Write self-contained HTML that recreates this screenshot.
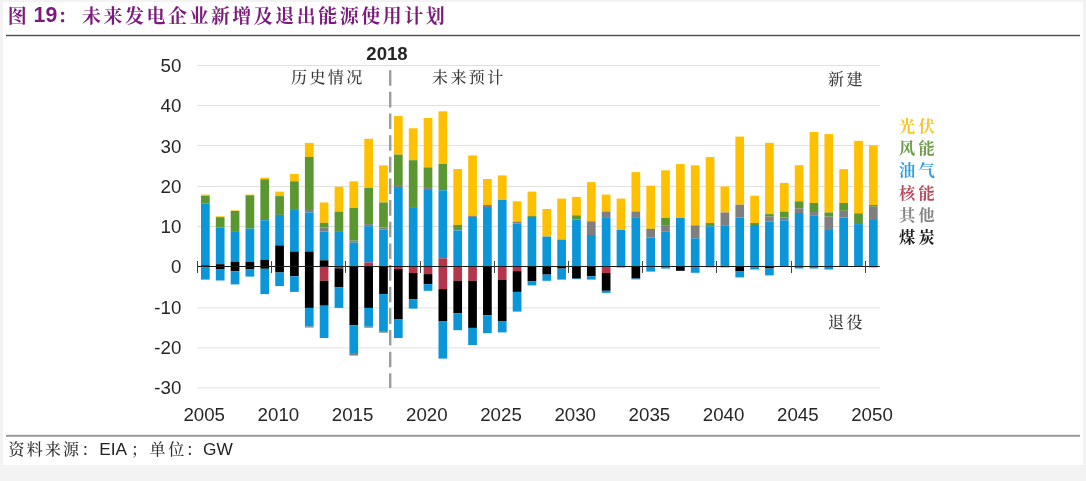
<!DOCTYPE html>
<html lang="zh-CN"><head><meta charset="utf-8"><title>图 19：未来发电企业新增及退出能源使用计划</title>
<style>
html,body{margin:0;padding:0;background:#f3f3f3;}
body{width:1086px;height:481px;overflow:hidden;position:relative;font-family:"Liberation Sans","Noto Serif CJK SC",sans-serif;}
#card{position:absolute;left:3px;top:2px;width:1080px;height:463px;background:#fff;}
svg{position:absolute;left:0;top:0;}
.num{font-family:"Liberation Sans",sans-serif;font-size:18.7px;fill:#262626;}
.kai{font-family:"Liberation Sans","Noto Serif CJK SC",serif;}
</style></head><body><div id="card"></div>
<svg width="1086" height="481" viewBox="0 0 1086 481">
<rect x="6" y="34.8" width="1074" height="1.4" fill="#4a4a4a"/>
<rect x="6" y="434.8" width="1074" height="2" fill="#9a9a9a"/>
<text x="7.8" y="23" class="kai" font-size="19" font-weight="bold" fill="#7a1b7c"><tspan>图</tspan><tspan x="33.6" y="22.1" font-size="21.3" font-family="Liberation Sans">19</tspan><tspan x="57.5" y="23">：</tspan><tspan x="82" letter-spacing="2.48">未来发电企业新增及退出能源使用计划</tspan></text>
<rect x="197.5" y="65.0" width="682.5" height="1" fill="#e0e0e0"/>
<rect x="197.5" y="105.0" width="682.5" height="1" fill="#e0e0e0"/>
<rect x="197.5" y="145.0" width="682.5" height="1" fill="#e0e0e0"/>
<rect x="197.5" y="186.0" width="682.5" height="1" fill="#e0e0e0"/>
<rect x="197.5" y="226.0" width="682.5" height="1" fill="#e0e0e0"/>
<rect x="197.5" y="307.4" width="682.5" height="1" fill="#e0e0e0"/>
<rect x="197.5" y="347.4" width="682.5" height="1" fill="#e0e0e0"/>
<rect x="197.5" y="387.4" width="682.5" height="1" fill="#e0e0e0"/>
<line x1="390.2" y1="70.2" x2="390.2" y2="388" stroke="#9c9c9c" stroke-width="2.4" stroke-dasharray="15.6 6.05"/>
<rect x="201.00" y="194.60" width="8.70" height="1.20" fill="#FFC000"/>
<rect x="201.00" y="195.80" width="8.70" height="7.50" fill="#5B9731"/>
<rect x="201.00" y="203.30" width="8.70" height="62.00" fill="#0B96DA"/>
<rect x="201.00" y="265.30" width="8.70" height="2.20" fill="#000000"/>
<rect x="201.00" y="267.50" width="8.70" height="12.10" fill="#0B96DA"/>
<rect x="215.84" y="216.30" width="8.70" height="0.90" fill="#FFC000"/>
<rect x="215.84" y="217.20" width="8.70" height="10.20" fill="#5B9731"/>
<rect x="215.84" y="227.40" width="8.70" height="36.80" fill="#0B96DA"/>
<rect x="215.84" y="264.20" width="8.70" height="5.30" fill="#000000"/>
<rect x="215.84" y="269.50" width="8.70" height="11.00" fill="#0B96DA"/>
<rect x="230.69" y="210.40" width="8.70" height="0.60" fill="#FFC000"/>
<rect x="230.69" y="211.00" width="8.70" height="20.90" fill="#5B9731"/>
<rect x="230.69" y="231.90" width="8.70" height="29.80" fill="#0B96DA"/>
<rect x="230.69" y="261.70" width="8.70" height="9.60" fill="#000000"/>
<rect x="230.69" y="271.30" width="8.70" height="13.10" fill="#0B96DA"/>
<rect x="245.53" y="194.60" width="8.70" height="0.70" fill="#FFC000"/>
<rect x="245.53" y="195.30" width="8.70" height="33.30" fill="#5B9731"/>
<rect x="245.53" y="228.60" width="8.70" height="33.10" fill="#0B96DA"/>
<rect x="245.53" y="261.70" width="8.70" height="7.80" fill="#000000"/>
<rect x="245.53" y="269.50" width="8.70" height="7.10" fill="#0B96DA"/>
<rect x="260.38" y="177.70" width="8.70" height="1.60" fill="#FFC000"/>
<rect x="260.38" y="179.30" width="8.70" height="40.90" fill="#5B9731"/>
<rect x="260.38" y="220.20" width="8.70" height="39.50" fill="#0B96DA"/>
<rect x="260.38" y="259.70" width="8.70" height="9.10" fill="#000000"/>
<rect x="260.38" y="268.80" width="8.70" height="25.30" fill="#0B96DA"/>
<rect x="275.22" y="191.60" width="8.70" height="4.50" fill="#FFC000"/>
<rect x="275.22" y="196.10" width="8.70" height="18.80" fill="#5B9731"/>
<rect x="275.22" y="214.90" width="8.70" height="30.50" fill="#0B96DA"/>
<rect x="275.22" y="245.40" width="8.70" height="27.10" fill="#000000"/>
<rect x="275.22" y="272.50" width="8.70" height="13.60" fill="#0B96DA"/>
<rect x="290.06" y="174.00" width="8.70" height="7.30" fill="#FFC000"/>
<rect x="290.06" y="181.30" width="8.70" height="27.80" fill="#5B9731"/>
<rect x="290.06" y="209.10" width="8.70" height="42.40" fill="#0B96DA"/>
<rect x="290.06" y="251.50" width="8.70" height="24.80" fill="#000000"/>
<rect x="290.06" y="276.30" width="8.70" height="15.60" fill="#0B96DA"/>
<rect x="304.91" y="142.90" width="8.70" height="14.00" fill="#FFC000"/>
<rect x="304.91" y="156.90" width="8.70" height="52.10" fill="#5B9731"/>
<rect x="304.91" y="209.00" width="8.70" height="3.40" fill="#7F7F7F"/>
<rect x="304.91" y="212.40" width="8.70" height="39.10" fill="#0B96DA"/>
<rect x="304.91" y="251.50" width="8.70" height="56.40" fill="#000000"/>
<rect x="304.91" y="307.90" width="8.70" height="18.60" fill="#0B96DA"/>
<rect x="304.91" y="326.50" width="8.70" height="1.00" fill="#7F7F7F"/>
<rect x="319.75" y="202.50" width="8.70" height="20.40" fill="#FFC000"/>
<rect x="319.75" y="222.90" width="8.70" height="4.60" fill="#5B9731"/>
<rect x="319.75" y="227.50" width="8.70" height="4.10" fill="#7F7F7F"/>
<rect x="319.75" y="231.60" width="8.70" height="28.70" fill="#0B96DA"/>
<rect x="319.75" y="260.30" width="8.70" height="6.20" fill="#000000"/>
<rect x="319.75" y="266.50" width="8.70" height="14.30" fill="#B5354A"/>
<rect x="319.75" y="280.80" width="8.70" height="24.90" fill="#000000"/>
<rect x="319.75" y="305.70" width="8.70" height="32.30" fill="#0B96DA"/>
<rect x="334.60" y="186.70" width="8.70" height="24.90" fill="#FFC000"/>
<rect x="334.60" y="211.60" width="8.70" height="20.30" fill="#5B9731"/>
<rect x="334.60" y="231.90" width="8.70" height="34.40" fill="#0B96DA"/>
<rect x="334.60" y="266.30" width="8.70" height="2.00" fill="#B5354A"/>
<rect x="334.60" y="268.30" width="8.70" height="19.10" fill="#000000"/>
<rect x="334.60" y="287.40" width="8.70" height="20.50" fill="#0B96DA"/>
<rect x="349.44" y="181.30" width="8.70" height="26.70" fill="#FFC000"/>
<rect x="349.44" y="208.00" width="8.70" height="32.60" fill="#5B9731"/>
<rect x="349.44" y="240.60" width="8.70" height="2.00" fill="#7F7F7F"/>
<rect x="349.44" y="242.60" width="8.70" height="23.90" fill="#0B96DA"/>
<rect x="349.44" y="266.50" width="8.70" height="58.70" fill="#000000"/>
<rect x="349.44" y="325.20" width="8.70" height="27.80" fill="#0B96DA"/>
<rect x="349.44" y="353.00" width="8.70" height="2.50" fill="#7F7F7F"/>
<rect x="364.28" y="138.80" width="8.70" height="49.20" fill="#FFC000"/>
<rect x="364.28" y="188.00" width="8.70" height="36.10" fill="#5B9731"/>
<rect x="364.28" y="224.10" width="8.70" height="2.10" fill="#7F7F7F"/>
<rect x="364.28" y="226.20" width="8.70" height="36.30" fill="#0B96DA"/>
<rect x="364.28" y="262.50" width="8.70" height="4.00" fill="#B5354A"/>
<rect x="364.28" y="266.50" width="8.70" height="41.40" fill="#000000"/>
<rect x="364.28" y="307.90" width="8.70" height="18.80" fill="#0B96DA"/>
<rect x="364.28" y="326.70" width="8.70" height="1.00" fill="#7F7F7F"/>
<rect x="379.13" y="165.40" width="8.70" height="37.10" fill="#FFC000"/>
<rect x="379.13" y="202.50" width="8.70" height="24.90" fill="#5B9731"/>
<rect x="379.13" y="227.40" width="8.70" height="2.20" fill="#7F7F7F"/>
<rect x="379.13" y="229.60" width="8.70" height="36.90" fill="#0B96DA"/>
<rect x="379.13" y="266.50" width="8.70" height="27.60" fill="#000000"/>
<rect x="379.13" y="294.10" width="8.70" height="37.70" fill="#0B96DA"/>
<rect x="379.13" y="331.80" width="8.70" height="0.90" fill="#7F7F7F"/>
<rect x="393.97" y="116.10" width="8.70" height="38.50" fill="#FFC000"/>
<rect x="393.97" y="154.60" width="8.70" height="30.40" fill="#5B9731"/>
<rect x="393.97" y="185.00" width="8.70" height="2.00" fill="#7F7F7F"/>
<rect x="393.97" y="187.00" width="8.70" height="79.50" fill="#0B96DA"/>
<rect x="393.97" y="266.50" width="8.70" height="2.60" fill="#B5354A"/>
<rect x="393.97" y="269.10" width="8.70" height="50.40" fill="#000000"/>
<rect x="393.97" y="319.50" width="8.70" height="18.50" fill="#0B96DA"/>
<rect x="408.82" y="128.30" width="8.70" height="31.90" fill="#FFC000"/>
<rect x="408.82" y="160.20" width="8.70" height="46.90" fill="#5B9731"/>
<rect x="408.82" y="207.10" width="8.70" height="59.40" fill="#0B96DA"/>
<rect x="408.82" y="266.50" width="8.70" height="6.50" fill="#B5354A"/>
<rect x="408.82" y="273.00" width="8.70" height="26.10" fill="#000000"/>
<rect x="408.82" y="299.10" width="8.70" height="9.50" fill="#0B96DA"/>
<rect x="423.66" y="118.00" width="8.70" height="49.40" fill="#FFC000"/>
<rect x="423.66" y="167.40" width="8.70" height="19.60" fill="#5B9731"/>
<rect x="423.66" y="187.00" width="8.70" height="3.00" fill="#7F7F7F"/>
<rect x="423.66" y="190.00" width="8.70" height="76.50" fill="#0B96DA"/>
<rect x="423.66" y="266.50" width="8.70" height="7.60" fill="#B5354A"/>
<rect x="423.66" y="274.10" width="8.70" height="10.00" fill="#000000"/>
<rect x="423.66" y="284.10" width="8.70" height="6.70" fill="#0B96DA"/>
<rect x="438.50" y="111.30" width="8.70" height="52.70" fill="#FFC000"/>
<rect x="438.50" y="164.00" width="8.70" height="26.30" fill="#5B9731"/>
<rect x="438.50" y="190.30" width="8.70" height="68.00" fill="#0B96DA"/>
<rect x="438.50" y="258.30" width="8.70" height="30.80" fill="#B5354A"/>
<rect x="438.50" y="289.10" width="8.70" height="32.40" fill="#000000"/>
<rect x="438.50" y="321.50" width="8.70" height="37.10" fill="#0B96DA"/>
<rect x="453.35" y="169.00" width="8.70" height="55.90" fill="#FFC000"/>
<rect x="453.35" y="224.90" width="8.70" height="4.10" fill="#5B9731"/>
<rect x="453.35" y="229.00" width="8.70" height="1.40" fill="#7F7F7F"/>
<rect x="453.35" y="230.40" width="8.70" height="36.10" fill="#0B96DA"/>
<rect x="453.35" y="266.50" width="8.70" height="14.30" fill="#B5354A"/>
<rect x="453.35" y="280.80" width="8.70" height="32.40" fill="#000000"/>
<rect x="453.35" y="313.20" width="8.70" height="17.00" fill="#0B96DA"/>
<rect x="468.19" y="155.40" width="8.70" height="60.40" fill="#FFC000"/>
<rect x="468.19" y="215.80" width="8.70" height="1.10" fill="#7F7F7F"/>
<rect x="468.19" y="216.90" width="8.70" height="49.60" fill="#0B96DA"/>
<rect x="468.19" y="266.50" width="8.70" height="14.30" fill="#B5354A"/>
<rect x="468.19" y="280.80" width="8.70" height="47.10" fill="#000000"/>
<rect x="468.19" y="327.90" width="8.70" height="17.10" fill="#0B96DA"/>
<rect x="483.04" y="179.00" width="8.70" height="26.00" fill="#FFC000"/>
<rect x="483.04" y="205.00" width="8.70" height="2.00" fill="#7F7F7F"/>
<rect x="483.04" y="207.00" width="8.70" height="59.50" fill="#0B96DA"/>
<rect x="483.04" y="266.50" width="8.70" height="48.70" fill="#000000"/>
<rect x="483.04" y="315.20" width="8.70" height="18.00" fill="#0B96DA"/>
<rect x="497.88" y="175.40" width="8.70" height="24.60" fill="#FFC000"/>
<rect x="497.88" y="200.00" width="8.70" height="66.50" fill="#0B96DA"/>
<rect x="497.88" y="266.50" width="8.70" height="13.50" fill="#B5354A"/>
<rect x="497.88" y="280.00" width="8.70" height="41.50" fill="#000000"/>
<rect x="497.88" y="321.50" width="8.70" height="10.90" fill="#0B96DA"/>
<rect x="512.72" y="201.30" width="8.70" height="20.30" fill="#FFC000"/>
<rect x="512.72" y="221.60" width="8.70" height="2.00" fill="#7F7F7F"/>
<rect x="512.72" y="223.60" width="8.70" height="42.90" fill="#0B96DA"/>
<rect x="512.72" y="266.50" width="8.70" height="4.60" fill="#B5354A"/>
<rect x="512.72" y="271.10" width="8.70" height="20.80" fill="#000000"/>
<rect x="512.72" y="291.90" width="8.70" height="19.70" fill="#0B96DA"/>
<rect x="527.57" y="191.60" width="8.70" height="24.20" fill="#FFC000"/>
<rect x="527.57" y="215.80" width="8.70" height="1.10" fill="#5B9731"/>
<rect x="527.57" y="216.90" width="8.70" height="49.60" fill="#0B96DA"/>
<rect x="527.57" y="266.50" width="8.70" height="14.60" fill="#000000"/>
<rect x="527.57" y="281.10" width="8.70" height="4.30" fill="#0B96DA"/>
<rect x="542.41" y="209.00" width="8.70" height="27.60" fill="#FFC000"/>
<rect x="542.41" y="236.60" width="8.70" height="29.90" fill="#0B96DA"/>
<rect x="542.41" y="266.50" width="8.70" height="8.10" fill="#000000"/>
<rect x="542.41" y="274.60" width="8.70" height="6.20" fill="#0B96DA"/>
<rect x="557.26" y="198.60" width="8.70" height="41.00" fill="#FFC000"/>
<rect x="557.26" y="239.60" width="8.70" height="26.40" fill="#0B96DA"/>
<rect x="557.26" y="266.00" width="8.70" height="2.60" fill="#000000"/>
<rect x="557.26" y="268.60" width="8.70" height="11.00" fill="#0B96DA"/>
<rect x="572.10" y="196.90" width="8.70" height="18.40" fill="#FFC000"/>
<rect x="572.10" y="215.30" width="8.70" height="4.30" fill="#5B9731"/>
<rect x="572.10" y="219.60" width="8.70" height="46.90" fill="#0B96DA"/>
<rect x="572.10" y="266.50" width="8.70" height="12.10" fill="#000000"/>
<rect x="572.10" y="278.60" width="8.70" height="0.60" fill="#0B96DA"/>
<rect x="586.94" y="182.10" width="8.70" height="39.20" fill="#FFC000"/>
<rect x="586.94" y="221.30" width="8.70" height="13.70" fill="#7F7F7F"/>
<rect x="586.94" y="235.00" width="8.70" height="31.50" fill="#0B96DA"/>
<rect x="586.94" y="266.50" width="8.70" height="9.80" fill="#000000"/>
<rect x="586.94" y="276.30" width="8.70" height="3.30" fill="#0B96DA"/>
<rect x="601.79" y="194.60" width="8.70" height="16.90" fill="#FFC000"/>
<rect x="601.79" y="211.50" width="8.70" height="5.70" fill="#7F7F7F"/>
<rect x="601.79" y="217.20" width="8.70" height="49.30" fill="#0B96DA"/>
<rect x="601.79" y="266.50" width="8.70" height="6.50" fill="#B5354A"/>
<rect x="601.79" y="273.00" width="8.70" height="17.80" fill="#000000"/>
<rect x="601.79" y="290.80" width="8.70" height="2.10" fill="#0B96DA"/>
<rect x="616.63" y="198.60" width="8.70" height="31.40" fill="#FFC000"/>
<rect x="616.63" y="230.00" width="8.70" height="37.50" fill="#0B96DA"/>
<rect x="631.48" y="172.10" width="8.70" height="39.40" fill="#FFC000"/>
<rect x="631.48" y="211.50" width="8.70" height="5.70" fill="#7F7F7F"/>
<rect x="631.48" y="217.20" width="8.70" height="49.30" fill="#0B96DA"/>
<rect x="631.48" y="266.50" width="8.70" height="12.10" fill="#000000"/>
<rect x="631.48" y="278.60" width="8.70" height="0.80" fill="#0B96DA"/>
<rect x="646.32" y="185.70" width="8.70" height="43.10" fill="#FFC000"/>
<rect x="646.32" y="228.80" width="8.70" height="1.20" fill="#5B9731"/>
<rect x="646.32" y="230.00" width="8.70" height="7.50" fill="#7F7F7F"/>
<rect x="646.32" y="237.50" width="8.70" height="34.10" fill="#0B96DA"/>
<rect x="661.16" y="170.30" width="8.70" height="47.70" fill="#FFC000"/>
<rect x="661.16" y="218.00" width="8.70" height="7.80" fill="#5B9731"/>
<rect x="661.16" y="225.80" width="8.70" height="5.50" fill="#7F7F7F"/>
<rect x="661.16" y="231.30" width="8.70" height="37.30" fill="#0B96DA"/>
<rect x="676.01" y="164.10" width="8.70" height="53.90" fill="#FFC000"/>
<rect x="676.01" y="218.00" width="8.70" height="48.50" fill="#0B96DA"/>
<rect x="676.01" y="266.50" width="8.70" height="4.30" fill="#000000"/>
<rect x="690.85" y="165.30" width="8.70" height="60.00" fill="#FFC000"/>
<rect x="690.85" y="225.30" width="8.70" height="13.00" fill="#7F7F7F"/>
<rect x="690.85" y="238.30" width="8.70" height="34.50" fill="#0B96DA"/>
<rect x="705.70" y="157.10" width="8.70" height="65.90" fill="#FFC000"/>
<rect x="705.70" y="223.00" width="8.70" height="3.30" fill="#5B9731"/>
<rect x="705.70" y="226.30" width="8.70" height="41.00" fill="#0B96DA"/>
<rect x="720.54" y="186.50" width="8.70" height="26.00" fill="#FFC000"/>
<rect x="720.54" y="212.50" width="8.70" height="13.30" fill="#7F7F7F"/>
<rect x="720.54" y="225.80" width="8.70" height="41.60" fill="#0B96DA"/>
<rect x="735.38" y="136.60" width="8.70" height="68.10" fill="#FFC000"/>
<rect x="735.38" y="204.70" width="8.70" height="12.80" fill="#7F7F7F"/>
<rect x="735.38" y="217.50" width="8.70" height="49.00" fill="#0B96DA"/>
<rect x="735.38" y="266.50" width="8.70" height="5.00" fill="#000000"/>
<rect x="735.38" y="271.50" width="8.70" height="5.90" fill="#0B96DA"/>
<rect x="750.23" y="195.70" width="8.70" height="27.30" fill="#FFC000"/>
<rect x="750.23" y="223.00" width="8.70" height="2.00" fill="#5B9731"/>
<rect x="750.23" y="225.00" width="8.70" height="44.50" fill="#0B96DA"/>
<rect x="765.07" y="142.80" width="8.70" height="71.30" fill="#FFC000"/>
<rect x="765.07" y="214.10" width="8.70" height="2.50" fill="#5B9731"/>
<rect x="765.07" y="216.60" width="8.70" height="5.00" fill="#7F7F7F"/>
<rect x="765.07" y="221.60" width="8.70" height="44.90" fill="#0B96DA"/>
<rect x="765.07" y="266.50" width="8.70" height="2.00" fill="#000000"/>
<rect x="765.07" y="268.50" width="8.70" height="6.90" fill="#0B96DA"/>
<rect x="779.92" y="182.90" width="8.70" height="28.70" fill="#FFC000"/>
<rect x="779.92" y="211.60" width="8.70" height="5.90" fill="#5B9731"/>
<rect x="779.92" y="217.50" width="8.70" height="2.80" fill="#7F7F7F"/>
<rect x="779.92" y="220.30" width="8.70" height="46.20" fill="#0B96DA"/>
<rect x="794.76" y="165.20" width="8.70" height="36.10" fill="#FFC000"/>
<rect x="794.76" y="201.30" width="8.70" height="7.00" fill="#5B9731"/>
<rect x="794.76" y="208.30" width="8.70" height="4.70" fill="#7F7F7F"/>
<rect x="794.76" y="213.00" width="8.70" height="55.50" fill="#0B96DA"/>
<rect x="809.60" y="132.00" width="8.70" height="71.00" fill="#FFC000"/>
<rect x="809.60" y="203.00" width="8.70" height="9.00" fill="#5B9731"/>
<rect x="809.60" y="212.00" width="8.70" height="3.30" fill="#7F7F7F"/>
<rect x="809.60" y="215.30" width="8.70" height="53.20" fill="#0B96DA"/>
<rect x="824.45" y="134.10" width="8.70" height="78.40" fill="#FFC000"/>
<rect x="824.45" y="212.50" width="8.70" height="4.10" fill="#5B9731"/>
<rect x="824.45" y="216.60" width="8.70" height="13.40" fill="#7F7F7F"/>
<rect x="824.45" y="230.00" width="8.70" height="39.50" fill="#0B96DA"/>
<rect x="839.29" y="169.10" width="8.70" height="33.90" fill="#FFC000"/>
<rect x="839.29" y="203.00" width="8.70" height="7.80" fill="#5B9731"/>
<rect x="839.29" y="210.80" width="8.70" height="6.70" fill="#7F7F7F"/>
<rect x="839.29" y="217.50" width="8.70" height="49.00" fill="#0B96DA"/>
<rect x="854.14" y="140.80" width="8.70" height="72.50" fill="#FFC000"/>
<rect x="854.14" y="213.30" width="8.70" height="10.80" fill="#5B9731"/>
<rect x="854.14" y="224.10" width="8.70" height="42.40" fill="#0B96DA"/>
<rect x="868.98" y="145.30" width="8.70" height="59.70" fill="#FFC000"/>
<rect x="868.98" y="205.00" width="8.70" height="1.70" fill="#5B9731"/>
<rect x="868.98" y="206.70" width="8.70" height="13.30" fill="#7F7F7F"/>
<rect x="868.98" y="220.00" width="8.70" height="47.40" fill="#0B96DA"/>
<rect x="197.4" y="266" width="682.4" height="1" fill="#1a1a1a"/>
<rect x="197" y="261" width="1" height="12" fill="#404040"/>
<rect x="271" y="261" width="1" height="12" fill="#404040"/>
<rect x="345" y="261" width="1" height="12" fill="#404040"/>
<rect x="420" y="261" width="1" height="12" fill="#404040"/>
<rect x="494" y="261" width="1" height="12" fill="#404040"/>
<rect x="568" y="261" width="1" height="12" fill="#404040"/>
<rect x="642" y="261" width="1" height="12" fill="#404040"/>
<rect x="716" y="261" width="1" height="12" fill="#404040"/>
<rect x="791" y="261" width="1" height="12" fill="#404040"/>
<rect x="865" y="261" width="1" height="12" fill="#404040"/>
<text x="181.3" y="72.1" text-anchor="end" class="num">50</text>
<text x="181.3" y="112.3" text-anchor="end" class="num">40</text>
<text x="181.3" y="152.5" text-anchor="end" class="num">30</text>
<text x="181.3" y="192.8" text-anchor="end" class="num">20</text>
<text x="181.3" y="233.0" text-anchor="end" class="num">10</text>
<text x="181.3" y="273.3" text-anchor="end" class="num">0</text>
<text x="181.3" y="313.6" text-anchor="end" class="num">-10</text>
<text x="181.3" y="353.9" text-anchor="end" class="num">-20</text>
<text x="181.3" y="394.2" text-anchor="end" class="num">-30</text>
<text x="204.2" y="421" text-anchor="middle" class="num">2005</text>
<text x="278.4" y="421" text-anchor="middle" class="num">2010</text>
<text x="352.6" y="421" text-anchor="middle" class="num">2015</text>
<text x="426.8" y="421" text-anchor="middle" class="num">2020</text>
<text x="501.0" y="421" text-anchor="middle" class="num">2025</text>
<text x="575.2" y="421" text-anchor="middle" class="num">2030</text>
<text x="649.4" y="421" text-anchor="middle" class="num">2035</text>
<text x="723.6" y="421" text-anchor="middle" class="num">2040</text>
<text x="797.8" y="421" text-anchor="middle" class="num">2045</text>
<text x="872.0" y="421" text-anchor="middle" class="num">2050</text>
<text x="387" y="60.2" text-anchor="middle" font-family="Liberation Sans" font-weight="bold" font-size="18.6" fill="#262626">2018</text>
<text x="291" y="82.6" class="kai" font-size="16" font-weight="500" letter-spacing="2.4" fill="#3a3a3a">历史情况</text>
<text x="432" y="82.6" class="kai" font-size="16" font-weight="500" letter-spacing="2.4" fill="#3a3a3a">未来预计</text>
<text x="828" y="85" class="kai" font-size="16" font-weight="500" letter-spacing="2.4" fill="#3a3a3a">新建</text>
<text x="828" y="327.6" class="kai" font-size="16" font-weight="500" letter-spacing="2.4" fill="#3a3a3a">退役</text>
<text x="899" y="131.8" class="kai" font-size="16.2" font-weight="bold" letter-spacing="3.2" fill="#F7C42C">光伏</text>
<text x="899" y="154.1" class="kai" font-size="16.2" font-weight="bold" letter-spacing="3.2" fill="#6C9C4A">风能</text>
<text x="899" y="176.3" class="kai" font-size="16.2" font-weight="bold" letter-spacing="3.2" fill="#2E9FDC">油气</text>
<text x="899" y="198.6" class="kai" font-size="16.2" font-weight="bold" letter-spacing="3.2" fill="#B8485A">核能</text>
<text x="899" y="220.8" class="kai" font-size="16.2" font-weight="bold" letter-spacing="3.2" fill="#858585">其他</text>
<text x="899" y="243.1" class="kai" font-size="16.2" font-weight="bold" letter-spacing="3.2" fill="#1a1a1a">煤炭</text>
<text x="8.5" y="455.4" class="kai" font-size="16" font-weight="500" fill="#333"><tspan letter-spacing="2.2">资料来源</tspan><tspan x="81.5">：</tspan><tspan x="99.3" font-size="17.3" font-family="Liberation Sans" fill="#222">EIA</tspan><tspan x="131">；</tspan><tspan x="149.5" letter-spacing="2.8">单位</tspan><tspan x="186">：</tspan><tspan x="203" font-size="17.3" font-family="Liberation Sans" fill="#222">GW</tspan></text>
</svg></body></html>
